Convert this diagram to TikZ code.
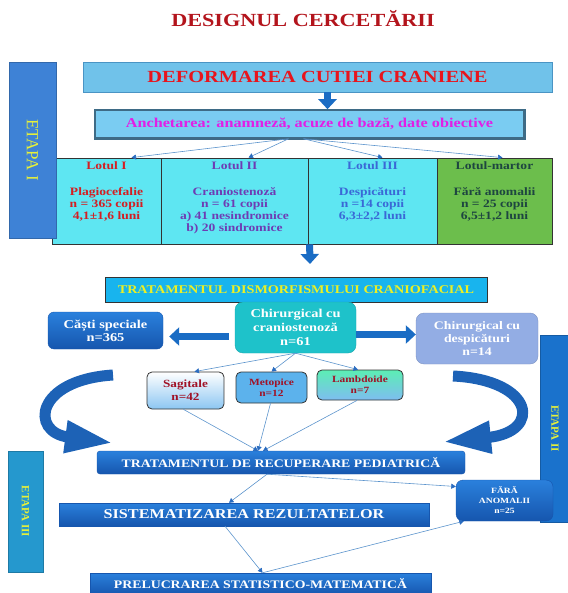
\documentclass[tikz,border=0pt]{standalone}
\usepackage{fontspec}
\setmainfont{Liberation Serif}[FakeStretch=1.2]
\newfontfamily\etapafont{Liberation Serif}
\usetikzlibrary{arrows.meta}

\definecolor{titlered}{HTML}{B3141C}
\definecolor{deformfill}{HTML}{70C2EA}
\definecolor{deformline}{HTML}{4A94C4}
\definecolor{deformred}{HTML}{E8141C}
\definecolor{anchfill}{HTML}{7ACCF2}
\definecolor{anchline}{HTML}{3E6B86}
\definecolor{anchpink}{HTML}{E21EE6}
\definecolor{lotcyan}{HTML}{5EE6F2}
\definecolor{lotgreen}{HTML}{6CBE4C}
\definecolor{lotred}{HTML}{D41E22}
\definecolor{lotpurple}{HTML}{6E3CB4}
\definecolor{lotblue}{HTML}{3A68D6}
\definecolor{lotdark}{HTML}{1E4640}
\definecolor{darkline}{HTML}{333333}
\definecolor{etapaone}{HTML}{3E82D6}
\definecolor{etapatwo}{HTML}{1A72CC}
\definecolor{etapathree}{HTML}{2598CE}
\definecolor{etapayellow}{HTML}{E6F03A}
\definecolor{dismorffill}{HTML}{18B4EE}
\definecolor{dismorfyellow}{HTML}{ECF024}
\definecolor{chirteal}{HTML}{1EC2CA}
\definecolor{despfill}{HTML}{93ADE4}
\definecolor{boxblue}{HTML}{1B6CC6}
\definecolor{boxbluelight}{HTML}{2A80DC}
\definecolor{boxbluedark}{HTML}{1656AE}
\definecolor{subred}{HTML}{A01226}
\definecolor{sagblue}{HTML}{8CC6F2}
\definecolor{metblue}{HTML}{5CB2EC}
\definecolor{lamgreen}{HTML}{5CEEB4}
\definecolor{lamblue}{HTML}{7EBDF0}
\definecolor{arrowblue}{HTML}{1A6CC4}
\definecolor{curveblue}{HTML}{1D62B6}
\definecolor{linkblue}{HTML}{5C94CC}
\definecolor{linktip}{HTML}{2A6CC0}

\begin{document}
\begin{tikzpicture}[x=1pt,y=-1pt,
  box/.style={inner sep=0pt, align=center, font=\bfseries},
  lotcell/.style={draw=darkline, line width=0.8pt, inner sep=0pt, minimum height=86pt},
  lottext/.style={anchor=north, inner sep=0pt, align=center, font=\bfseries\fontsize{11.3}{12}\selectfont},
  etapabar/.style={rotate=-90, inner sep=0pt, text=etapayellow, draw=#1!80!black, line width=0.4pt, fill=#1},
  bluebox/.style={box, text=white, draw=boxbluedark, line width=0.4pt, top color=boxbluelight, bottom color=boxbluedark},
  subbox/.style={box, text=subred, draw=darkline, line width=0.8pt, rounded corners=5pt},
  link/.style={draw=linkblue, line width=0.6pt, -{Triangle[width=5pt,length=4.5pt,color=linktip]}},
  bigarrow/.style={draw=arrowblue, line width=7pt, -{Triangle[width=18pt,length=10pt]}},
  curvearrow/.style={draw=curveblue, line width=11pt, -{Triangle[width=30pt,length=48pt]}}]
\useasboundingbox (0,0) rectangle (567,593);

% title
\node[box, text=titlered, font=\bfseries\fontsize{18.5}{21}\selectfont] (title) at (303,19) {DESIGNUL CERCETĂRII};

% etapa I
\node[box, fill=deformfill, draw=deformline, line width=0.8pt, minimum width=469pt, minimum height=30pt,
      text=deformred, font=\bfseries\fontsize{17}{19}\selectfont] (deform) at (317.5,77) {DEFORMAREA CUTIEI CRANIENE};
\node[box, fill=anchfill, draw=anchline, line width=1.6pt, minimum width=429pt, minimum height=28pt,
      text=anchpink, font=\bfseries\fontsize{13.5}{15}\selectfont] (anch) at (309.5,124) {Anchetarea: anamneză, acuze de bază, date obiective};
\draw[anchline, line width=3pt] (anch.north east) -- (anch.south east) -- (anch.south west);
\draw[bigarrow] ([xshift=10pt]deform.south) -- ([xshift=10pt]deform.south |- anch.north);

\node[lotcell, fill=lotcyan,  minimum width=109pt] (l1) at (106.5,201) {};
\node[lotcell, fill=lotcyan,  minimum width=147pt] (l2) at (234.5,201) {};
\node[lotcell, fill=lotcyan,  minimum width=129pt] (l3) at (372.5,201) {};
\node[lotcell, fill=lotgreen, minimum width=115pt] (l4) at (494.5,201) {};
\node[lottext, text=lotred] (l1t) at ([yshift=-4pt]l1.north)
  {Lotul I\\[14pt]Plagiocefalie\\n = 365 copii\\4,1±1,6 luni};
\node[lottext, text=lotpurple] (l2t) at ([yshift=-4pt]l2.north)
  {Lotul II\\[14pt]Craniostenoză\\n = 61 copii\\a) 41 nesindromice\\b) 20 sindromice};
\node[lottext, text=lotblue] (l3t) at ([yshift=-4pt]l3.north)
  {Lotul III\\[14pt]Despicături\\n =14 copii\\6,3±2,2 luni};
\node[lottext, text=lotdark] (l4t) at ([yshift=-4pt]l4.north)
  {Lotul-martor\\[14pt]Fără anomalii\\n = 25 copii\\6,5±1,2 luni};
\foreach \c/\s/\d in {l1/-21/25, l2/-21/14, l3/-6/10, l4/-6/8}
  \draw[link] ([xshift=\s pt]anch.south) -- ([xshift=\d pt]\c.north);

\node[etapabar=etapaone, minimum width=176pt, minimum height=47pt,
      font=\etapafont\fontsize{17}{19}\selectfont] (et1) at (32.5,150) {ETAPA I};

% etapa II
\coordinate (arrend) at (310,264);
\draw[bigarrow] ([xshift=2pt]l3.south west) -- (arrend);
\node[box, fill=dismorffill, draw=darkline, line width=0.8pt, minimum width=382pt, minimum height=25pt,
      text=dismorfyellow, font=\bfseries\fontsize{11.8}{13}\selectfont] (dismorf) at (296,289.5) {TRATAMENTUL DISMORFISMULUI CRANIOFACIAL};
\node[box, fill=chirteal, draw=chirteal!85!black, line width=0.4pt, rounded corners=8pt, text=white,
      minimum width=121pt, minimum height=51pt, font=\bfseries\fontsize{12}{14}\selectfont] (chir) at (295.5,327.5) {Chirurgical cu\\craniostenoză\\n=61};
\node[bluebox, rounded corners=6pt, minimum width=115pt, minimum height=37pt,
      font=\bfseries\fontsize{12}{13}\selectfont] (casti) at (105.5,330.5) {Căști speciale\\n=365};
\node[etapabar=etapatwo, minimum width=187pt, minimum height=30pt,
      font=\etapafont\bfseries\fontsize{11}{12}\selectfont] (et2) at (555,428.5) {ETAPA II};
\node[box, fill=despfill, draw=despfill!85!black, line width=0.4pt, rounded corners=8pt, text=white,
      minimum width=122pt, minimum height=51pt, font=\bfseries\fontsize{11.5}{13}\selectfont] (desp) at (477,338.5) {Chirurgical cu\\despicături\\n=14};
\draw[bigarrow, shorten <=6pt, shorten >=6pt] ([yshift=-9pt]chir.west) -- ([yshift=-9pt]chir.west -| casti.east);
\draw[bigarrow] ([yshift=-7pt]chir.east) -- ([yshift=-7pt]chir.east -| desp.west);

\node[subbox, top color=white, bottom color=sagblue, minimum width=77pt, minimum height=37pt,
      font=\bfseries\fontsize{11}{13}\selectfont] (sag) at (185.5,390.5) {Sagitale\\n=42};
\node[subbox, fill=metblue, minimum width=71pt, minimum height=31pt,
      font=\bfseries\fontsize{9.5}{11}\selectfont] (met) at (271.5,387.5) {Metopice\\n=12};
\node[subbox, top color=lamgreen, bottom color=lamblue, minimum width=86pt, minimum height=30pt,
      font=\bfseries\fontsize{9.5}{11}\selectfont] (lam) at (360,385) {Lambdoide\\n=7};
\draw[link] (chir.south) -- ([xshift=9pt]sag.north);
\draw[link] (chir.south) -- (met.north);
\draw[link] (chir.south) -- ([xshift=-2pt]lam.north);

\draw[curvearrow] (113,375) .. controls (35,380) and (30,432) .. (113,443);
\draw[curvearrow] (453,376) .. controls (535,380) and (542,432) .. (443,442);

% etapa III
\node[bluebox, rounded corners=3pt, minimum width=368pt, minimum height=23pt,
      font=\bfseries\fontsize{11.5}{13}\selectfont] (recup) at (281,462.5) {TRATAMENTUL DE RECUPERARE PEDIATRICĂ};
\node[etapabar=etapathree, minimum width=121pt, minimum height=35pt,
      font=\etapafont\bfseries\fontsize{11}{12}\selectfont] (et3) at (25.5,511.5) {ETAPA III};
\node[bluebox, minimum width=370pt, minimum height=23pt,
      font=\bfseries\fontsize{13.5}{15}\selectfont] (sist) at (244,514.5) {SISTEMATIZAREA REZULTATELOR};
\node[bluebox, rounded corners=7pt, minimum width=97pt, minimum height=41pt,
      font=\bfseries\fontsize{8}{10}\selectfont] (fara) at (504.5,500.5) {FĂRĂ\\ANOMALII\\n=25};
\node[bluebox, minimum width=341pt, minimum height=22pt,
      font=\bfseries\fontsize{11.5}{13}\selectfont] (prel) at (260.5,584) {PRELUCRAREA STATISTICO-MATEMATICĂ};

\draw[link] ([xshift=-2pt]sag.south) -- ([xshift=-23pt]recup.north);
\draw[link] ([xshift=-1pt]met.south) -- ([xshift=-23pt]recup.north);
\draw[link] ([xshift=-3pt]lam.south) -- ([xshift=-18pt]recup.north);
\draw[link] ([xshift=-14pt]recup.south) -- ([xshift=-15pt]sist.north);
\draw[link] ([xshift=-14pt]recup.south) -- ([yshift=14pt]fara.west);
\draw[link] ([xshift=-19pt]sist.south) -- ([xshift=2pt]prel.north);
\draw[link] ([xshift=2pt]prel.north) -- ([xshift=8pt]fara.south west);
\end{tikzpicture}
\end{document}
